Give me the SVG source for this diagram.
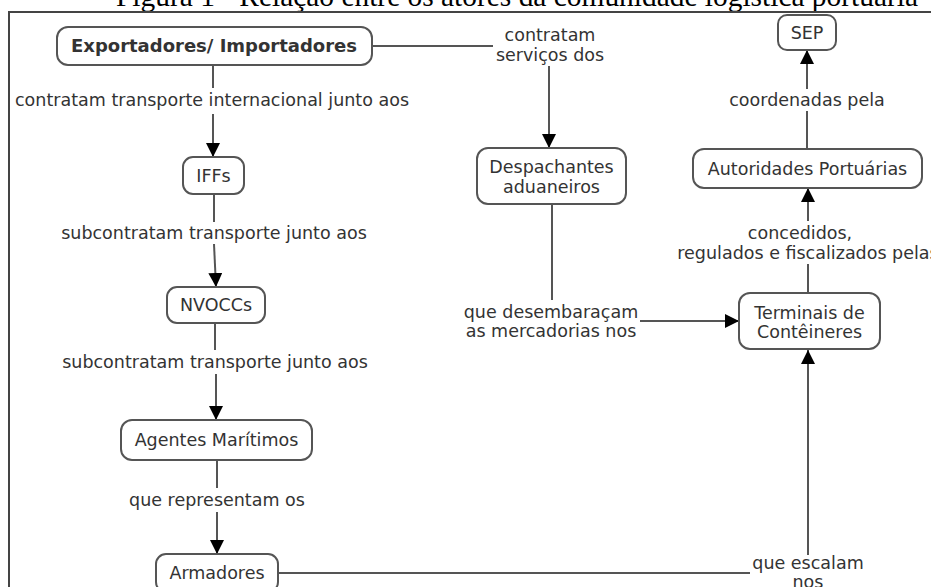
<svg xmlns="http://www.w3.org/2000/svg" width="931" height="587" viewBox="0 0 931 587">
<defs>
<marker id="arr" viewBox="0 0 10 10" refX="10" refY="5" markerUnits="userSpaceOnUse" markerWidth="14" markerHeight="14" orient="auto">
<path d="M0,0 L10,5 L0,10 z" fill="#000"/>
</marker>
<style>
.node rect{fill:#fff;stroke:#555;stroke-width:2}
.node text{font-family:"DejaVu Sans",Verdana,sans-serif;font-size:17.5px;fill:#333;text-anchor:middle}
.lbl{font-family:"DejaVu Sans",Verdana,sans-serif;font-size:17.5px;fill:#333;text-anchor:middle}
.conn path{fill:none;stroke:#555;stroke-width:2}
.frame{fill:none;stroke:#444;stroke-width:2}
.title{font-family:"Liberation Serif","Times New Roman",serif;font-size:30px;fill:#000}
</style>
</defs>
<rect width="931" height="587" fill="#fff"/>
<text class="title" x="116" y="6" textLength="802" lengthAdjust="spacingAndGlyphs">Figura 1 - Relação entre os atores da comunidade logística portuária</text>
<path class="frame" d="M9,587 V12 H931"/>

<g id="connectors" class="conn">
<path d="M213,65 V88"/><path d="M213,114 V157" marker-end="url(#arr)"/>
<path d="M214,194 V222"/><path d="M214,244 L216,287" marker-end="url(#arr)"/>
<path d="M215,323 V350"/><path d="M216,374 V420" marker-end="url(#arr)"/>
<path d="M217,460 V488"/><path d="M217,512 V554" marker-end="url(#arr)"/>
<path d="M278,573 H750"/><path d="M808,555 V350" marker-end="url(#arr)"/>
<path d="M372,46 H493"/><path d="M549,66 V148" marker-end="url(#arr)"/>
<path d="M552,204 V300"/><path d="M640,321 H739" marker-end="url(#arr)"/>
<path d="M808,293 V264"/><path d="M808,221 V188" marker-end="url(#arr)"/>
<path d="M807,149 V111"/><path d="M807,89 V50" marker-end="url(#arr)"/>
</g>

<g id="labels">
<text class="lbl" x="212" y="106">contratam transporte internacional junto aos</text>
<text class="lbl" x="214" y="239">subcontratam transporte junto aos</text>
<text class="lbl" x="215" y="368">subcontratam transporte junto aos</text>
<text class="lbl" x="217" y="506">que representam os</text>
<text class="lbl" x="808" y="569">que escalam</text>
<text class="lbl" x="808" y="588">nos</text>
<text class="lbl" x="550" y="41">contratam</text>
<text class="lbl" x="550" y="61">serviços dos</text>
<text class="lbl" x="551" y="318">que desembaraçam</text>
<text class="lbl" x="551" y="337">as mercadorias nos</text>
<text class="lbl" x="800" y="239">concedidos,</text>
<text class="lbl" x="808" y="259">regulados e fiscalizados pelas</text>
<text class="lbl" x="807" y="106">coordenadas pela</text>
</g>

<g id="n-export" class="node">
<rect x="57" y="27" width="315" height="38" rx="11"/>
<text x="214" y="52" style="font-weight:bold;font-size:18px">Exportadores/ Importadores</text>
</g>
<g id="n-iffs" class="node">
<rect x="183" y="157" width="61" height="37" rx="10"/>
<text x="213.5" y="182">IFFs</text>
</g>
<g id="n-nvoccs" class="node">
<rect x="167" y="287" width="98" height="36" rx="10"/>
<text x="216" y="311">NVOCCs</text>
</g>
<g id="n-agentes" class="node">
<rect x="121" y="420" width="191" height="40" rx="11"/>
<text x="216.5" y="446">Agentes Marítimos</text>
</g>
<g id="n-armadores" class="node">
<rect x="156" y="554" width="122" height="38" rx="10"/>
<text x="217" y="579">Armadores</text>
</g>
<g id="n-despachantes" class="node">
<rect x="477" y="148" width="149" height="56" rx="11"/>
<text x="551.5" y="173">Despachantes</text>
<text x="551.5" y="193">aduaneiros</text>
</g>
<g id="n-terminais" class="node">
<rect x="739" y="293" width="141" height="56" rx="11"/>
<text x="809.5" y="319">Terminais de</text>
<text x="809.5" y="338">Contêineres</text>
</g>
<g id="n-autoridades" class="node">
<rect x="693" y="149" width="229" height="39" rx="11"/>
<text x="807.5" y="175">Autoridades Portuárias</text>
</g>
<g id="n-sep" class="node">
<rect x="778" y="15" width="58" height="35" rx="9"/>
<text x="807" y="39">SEP</text>
</g>
</svg>
